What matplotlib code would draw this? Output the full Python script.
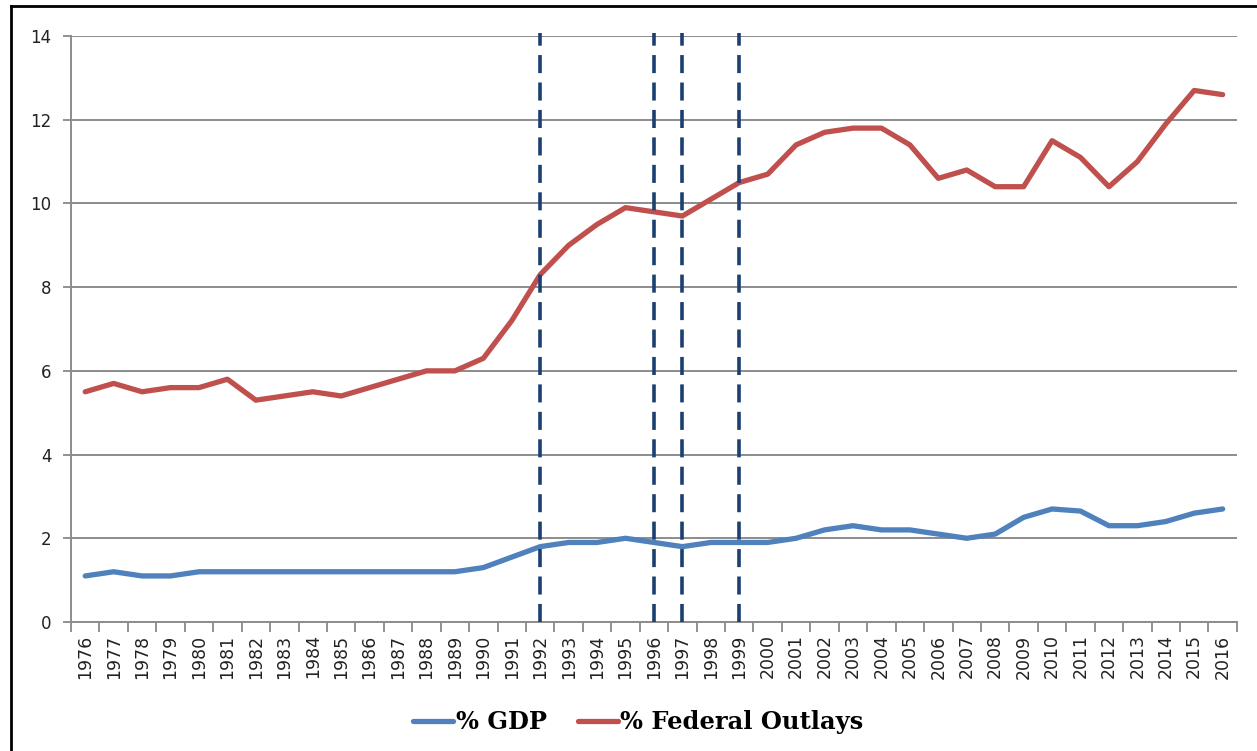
import matplotlib.pyplot as plt
from matplotlib.lines import Line2D

years = list(range(1976, 2017))
gdp = [1.1, 1.2, 1.1, 1.1, 1.2, 1.2, 1.2, 1.2, 1.2, 1.2,
       1.2, 1.2, 1.2, 1.2, 1.3, 1.55, 1.8, 1.9, 1.9, 2.0,
       1.9, 1.8, 1.9, 1.9, 1.9, 2.0, 2.2, 2.3, 2.2, 2.2,
       2.1, 2.0, 2.1, 2.5, 2.7, 2.65, 2.3, 2.3, 2.4, 2.6, 2.7]
outlays = [5.5, 5.7, 5.5, 5.6, 5.6, 5.8, 5.3, 5.4, 5.5, 5.4,
           5.6, 5.8, 6.0, 6.0, 6.3, 7.2, 8.3, 9.0, 9.5, 9.9,
           9.8, 9.7, 10.1, 10.5, 10.7, 11.4, 11.7, 11.8, 11.8, 11.4,
           10.6, 10.8, 10.4, 10.4, 11.5, 11.1, 10.4, 11.0, 11.9, 12.7, 12.6]
marked_years = [1992, 1996, 1997, 1999]

fig = plt.figure(figsize=(12.57, 7.51), dpi=100, facecolor='white')
ax = fig.add_axes([0.0565, 0.1718, 0.9275, 0.7802])

x = list(range(len(years)))
ax.plot(x, gdp, color='#4f81bd', lw=3.8, solid_capstyle='round', label='% GDP', zorder=3)
ax.plot(x, outlays, color='#c0504d', lw=3.8, solid_capstyle='round', label='% Federal Outlays', zorder=3)

for yr in marked_years:
    xi = years.index(yr)
    ax.plot([xi, xi], [0, 14.08], color='#1b3f6e', lw=2.6, ls=(0, (5, 2.6)),
            clip_on=False, zorder=4)

ax.set_xlim(-0.5, len(years) - 0.5)
ax.set_ylim(0, 14)
ax.set_yticks(range(0, 15, 2))
ax.set_xticks(x)
ax.set_xticklabels([str(y) for y in years], rotation=90, fontsize=12.5, color='#222222')
ax.set_xticks([i - 0.5 for i in range(len(years) + 1)], minor=True)
ax.tick_params(axis='x', which='major', length=0, pad=9)
ax.tick_params(axis='x', which='minor', length=7, width=1.3, color='#888888', direction='out')
ax.tick_params(axis='y', length=6, width=1.3, color='#888888', labelsize=12, labelcolor='#222222', pad=8)

ax.yaxis.grid(True, color='#8c8c8c', lw=1.4)
ax.set_axisbelow(True)
for s in ['top', 'right']:
    ax.spines[s].set_visible(False)
for s in ['left', 'bottom']:
    ax.spines[s].set_color('#8c8c8c')
    ax.spines[s].set_linewidth(1.4)

leg = fig.legend(loc='center', bbox_to_anchor=(0.508, 0.038), ncol=2, frameon=False,
                 handlelength=1.65, handletextpad=0.1, columnspacing=1.3,
                 prop={'family': 'DejaVu Serif', 'weight': 'bold', 'size': 17.4})

# outer frame of the screenshot
fig.add_artist(Line2D([0.0085, 0.0085], [0.0, 0.992], color='black', lw=2, transform=fig.transFigure))
fig.add_artist(Line2D([0.0085, 1.0], [0.992, 0.992], color='black', lw=2, transform=fig.transFigure))

fig.savefig('out.png', dpi=100, facecolor='white')
